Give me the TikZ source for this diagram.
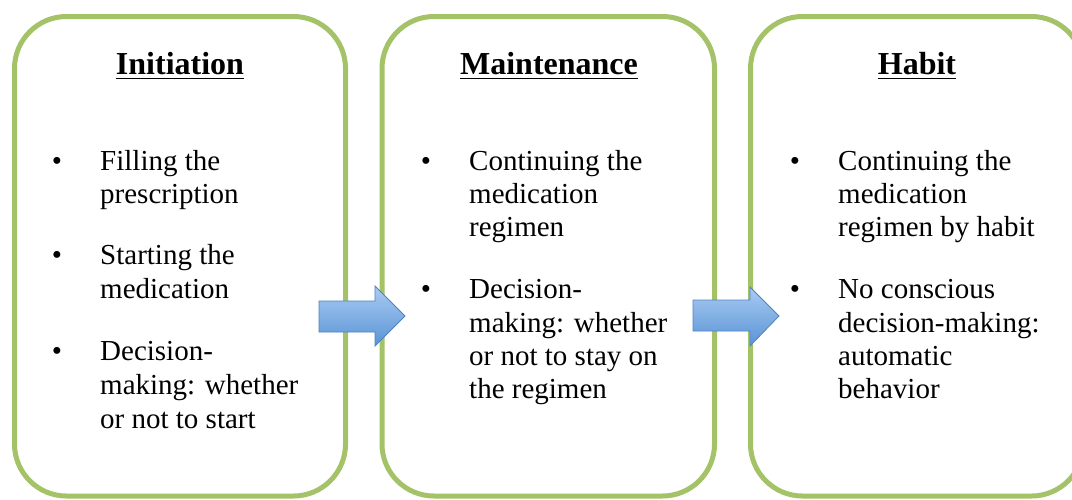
\documentclass[tikz,border=0pt]{standalone}
\usepackage{fontspec}
\setmainfont{Liberation Serif}
\definecolor{boxgreen}{HTML}{A4C267}
\definecolor{arrowtop}{HTML}{A9CBF2}
\definecolor{arrowbot}{HTML}{5A94D6}
\definecolor{arrowedge}{HTML}{4F82C0}
\begin{document}
\begin{tikzpicture}[x=1pt,y=-1pt,
  stagebox/.style={draw=boxgreen, line width=5pt, rounded corners=52pt, minimum height=479.5pt, inner sep=0},
  stagetitle/.style={font=\fontsize{32}{36}\selectfont\bfseries, inner sep=0, anchor=base},
  txt/.style={font=\fontsize{29}{33}\selectfont, inner sep=0, anchor=base west},
  bul/.style={font=\fontsize{29}{33}\selectfont, inner sep=0, anchor=base},
  uline/.style={line width=1.5pt},
  blockarrow/.style={draw=arrowedge, line width=0.8pt, top color=arrowtop, bottom color=arrowbot, line join=miter}
]
\useasboundingbox (0,0) rectangle (1072,499);
\begin{scope}
\clip (0,0) rectangle (1072,499);
% boxes
\node[stagebox, minimum width=331pt] (b1) at (180,256.25) {};
\node[stagebox, minimum width=332.5pt] (b2) at (548.25,256.25) {};
\node[stagebox, minimum width=333pt] (b3) at (917,256.25) {};
\end{scope}
% titles
\node[stagetitle] (t1) at (180,74) {Initiation};
\node[stagetitle] (t2) at (549,74) {Maintenance};
\node[stagetitle] (t3) at (917,74) {Habit};
\draw[uline] ([yshift=-4.5pt]t1.base west) -- ([yshift=-4.5pt]t1.base east);
\draw[uline] ([yshift=-4.5pt]t2.base west) -- ([yshift=-4.5pt]t2.base east);
\draw[uline] ([yshift=-4.5pt]t3.base west) -- ([yshift=-4.5pt]t3.base east);
% box 1 text
\node[bul] (p1) at (57,170) {•};
\node[txt] (a1) at (100,170) {Filling the};
\node[txt] (a2) at (100,203) {prescription};
\node[bul] (p2) at (57,264) {•};
\node[txt] (a3) at (100,264) {Starting the};
\node[txt] (a4) at (100,298) {medication};
\node[bul] (p3) at (57,360) {•};
\node[txt] (a5) at (100,360) {Decision-};
\node[txt] (a6) at (100,394) {making: whether};
\node[txt] (a7) at (100,428) {or not to start};
% box 2 text
\node[bul] (q1) at (426,170) {•};
\node[txt] (c1) at (469,170) {Continuing the};
\node[txt] (c2) at (469,203) {medication};
\node[txt] (c3) at (469,236) {regimen};
\node[bul] (q2) at (426,298) {•};
\node[txt] (c4) at (469,298) {Decision-};
\node[txt] (c5) at (469,332) {making: whether};
\node[txt] (c6) at (469,365) {or not to stay on};
\node[txt] (c7) at (469,398) {the regimen};
% box 3 text
\node[bul] (r1) at (795,170) {•};
\node[txt] (h1) at (838,170) {Continuing the};
\node[txt] (h2) at (838,203) {medication};
\node[txt] (h3) at (838,236) {regimen by habit};
\node[bul] (r2) at (795,298) {•};
\node[txt] (h4) at (838,298) {No conscious};
\node[txt] (h5) at (838,332) {decision-making:};
\node[txt] (h6) at (838,365) {automatic};
\node[txt] (h7) at (838,398) {behavior};
% arrows
\draw[blockarrow] (319,301) -- (375,301) -- (375,286) -- (405,316) -- (375,346) -- (375,332) -- (319,332) -- cycle;
\draw[blockarrow] (693,300) -- (750,300) -- (750,287) -- (779,316) -- (750,346) -- (750,331) -- (693,331) -- cycle;
\end{tikzpicture}
\end{document}
